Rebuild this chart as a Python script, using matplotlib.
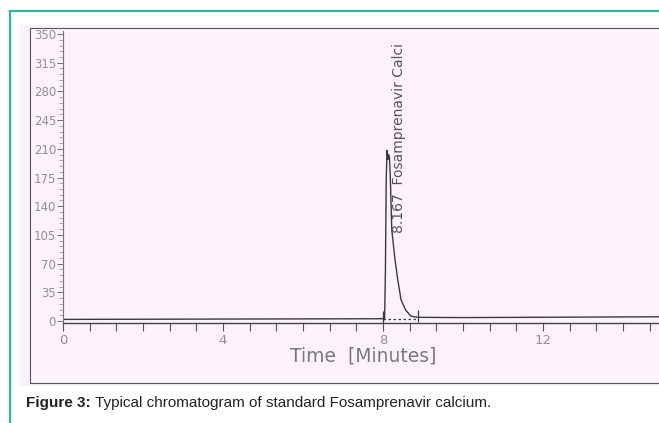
import numpy as np
import matplotlib
matplotlib.use("Agg")
import matplotlib.pyplot as plt
from matplotlib.ticker import MultipleLocator, FixedLocator
from matplotlib.patches import Rectangle
from matplotlib.lines import Line2D

# chromatogram trace (minutes, mV)
time = [0, 2, 4, 6, 7.9, 8.0, 8.02, 8.04, 8.06, 8.08, 8.10, 8.12, 8.14, 8.16,
        8.18, 8.22, 8.30, 8.37, 8.45, 8.57, 8.70, 8.80, 8.90, 10, 12, 14, 15]
signal = [2.0, 2.2, 2.4, 2.6, 2.8, 3.0, 1.2, 3.5, 60, 170, 208, 197, 203, 200,
          180, 111, 75, 50, 26, 13, 6, 5, 4.5, 4.2, 4.6, 5.0, 5.2]

peak_name = "8.167  Fosamprenavir Calci"
integ_start, integ_end = 8.0, 8.88
baseline_level = 2.5

y_labels = [0, 35, 70, 105, 140, 175, 210, 245, 280, 315, 350]
x_labels = [0, 4, 8, 12]

W, H = 659, 423
def fx(x):
    return x / W
def fy(y):
    return 1 - y / H

fig = plt.figure(figsize=(W / 100, H / 100), dpi=100)
fig.patch.set_facecolor("white")

teal = "#2eb59c"

# teal figure frame
fig.add_artist(Line2D([fx(10), fx(659)], [fy(11), fy(11)], color=teal, lw=1.6))
fig.add_artist(Line2D([fx(10), fx(10)], [fy(11), fy(423)], color=teal, lw=1.6))

# scanned page background and its frame
fig.add_artist(Rectangle((fx(20), fy(386)), fx(639), 361 / H, facecolor="#fcf2fa",
                         edgecolor="none", zorder=0))
fig.add_artist(Rectangle((fx(30), fy(383)), fx(640), 355 / H, facecolor="none",
                         edgecolor="#555555", lw=0.8, zorder=1))

ax = fig.add_axes([fx(63), fy(323), fx(659 - 63), (323 - 31) / H])
ax.set_facecolor("none")
ax.plot(time, signal, color="#3a3a3a", lw=1.0)
ax.plot([integ_start, integ_end], [baseline_level, baseline_level], color="#3a3a3a",
        lw=0.9, ls=(0, (2, 2)))
ax.vlines([integ_start, integ_end], [-3, -1], [12, 14], color="#3a3a3a", lw=0.9)

ax.set_xlim(0, 14.9)
ax.set_ylim(-2.4, 353.7)

for s in ["top", "right"]:
    ax.spines[s].set_visible(False)
ax.spines["left"].set_color("#777777")
ax.spines["bottom"].set_color("#444444")
ax.spines["left"].set_linewidth(0.8)
ax.spines["bottom"].set_linewidth(1.0)

ax.yaxis.set_major_locator(FixedLocator(y_labels))
ax.yaxis.set_minor_locator(MultipleLocator(7))
ax.set_yticklabels([str(v) for v in y_labels])
ax.tick_params(axis="y", which="major", direction="out", length=4, width=0.7,
               color="#777777", labelcolor="#909090", labelsize=8.5, pad=1)
ax.tick_params(axis="y", which="minor", direction="out", length=3, width=0.5,
               color="#888888")

ax.xaxis.set_major_locator(FixedLocator(x_labels))
ax.xaxis.set_minor_locator(MultipleLocator(2 / 3))
ax.set_xticklabels([str(v) for v in x_labels])
ax.tick_params(axis="x", which="both", direction="out", length=6, width=0.8,
               color="#555555", labelcolor="#909090", labelsize=9.5, pad=2)

ax.text(8.4, 107, peak_name, rotation=90, ha="center", va="bottom",
        color="#555555", fontsize=10, clip_on=True)

fig.text(fx(363), fy(356), "Time  [Minutes]", ha="center", va="center",
         color="#7a7a7a", fontsize=13.5)

# caption
cap1 = fig.text(fx(26), fy(403), "Figure 3:", ha="left", va="center",
                fontsize=11, fontweight="bold", color="#222222",
                family=["Liberation Sans", "DejaVu Sans"])
fig.canvas.draw()
bb = cap1.get_window_extent(fig.canvas.get_renderer())
fig.text(bb.x1 / W + fx(4), fy(403),
         "Typical chromatogram of standard Fosamprenavir calcium.",
         ha="left", va="center", fontsize=11, color="#222222",
         family=["Liberation Sans", "DejaVu Sans"])

fig.savefig("out.png", dpi=100)
